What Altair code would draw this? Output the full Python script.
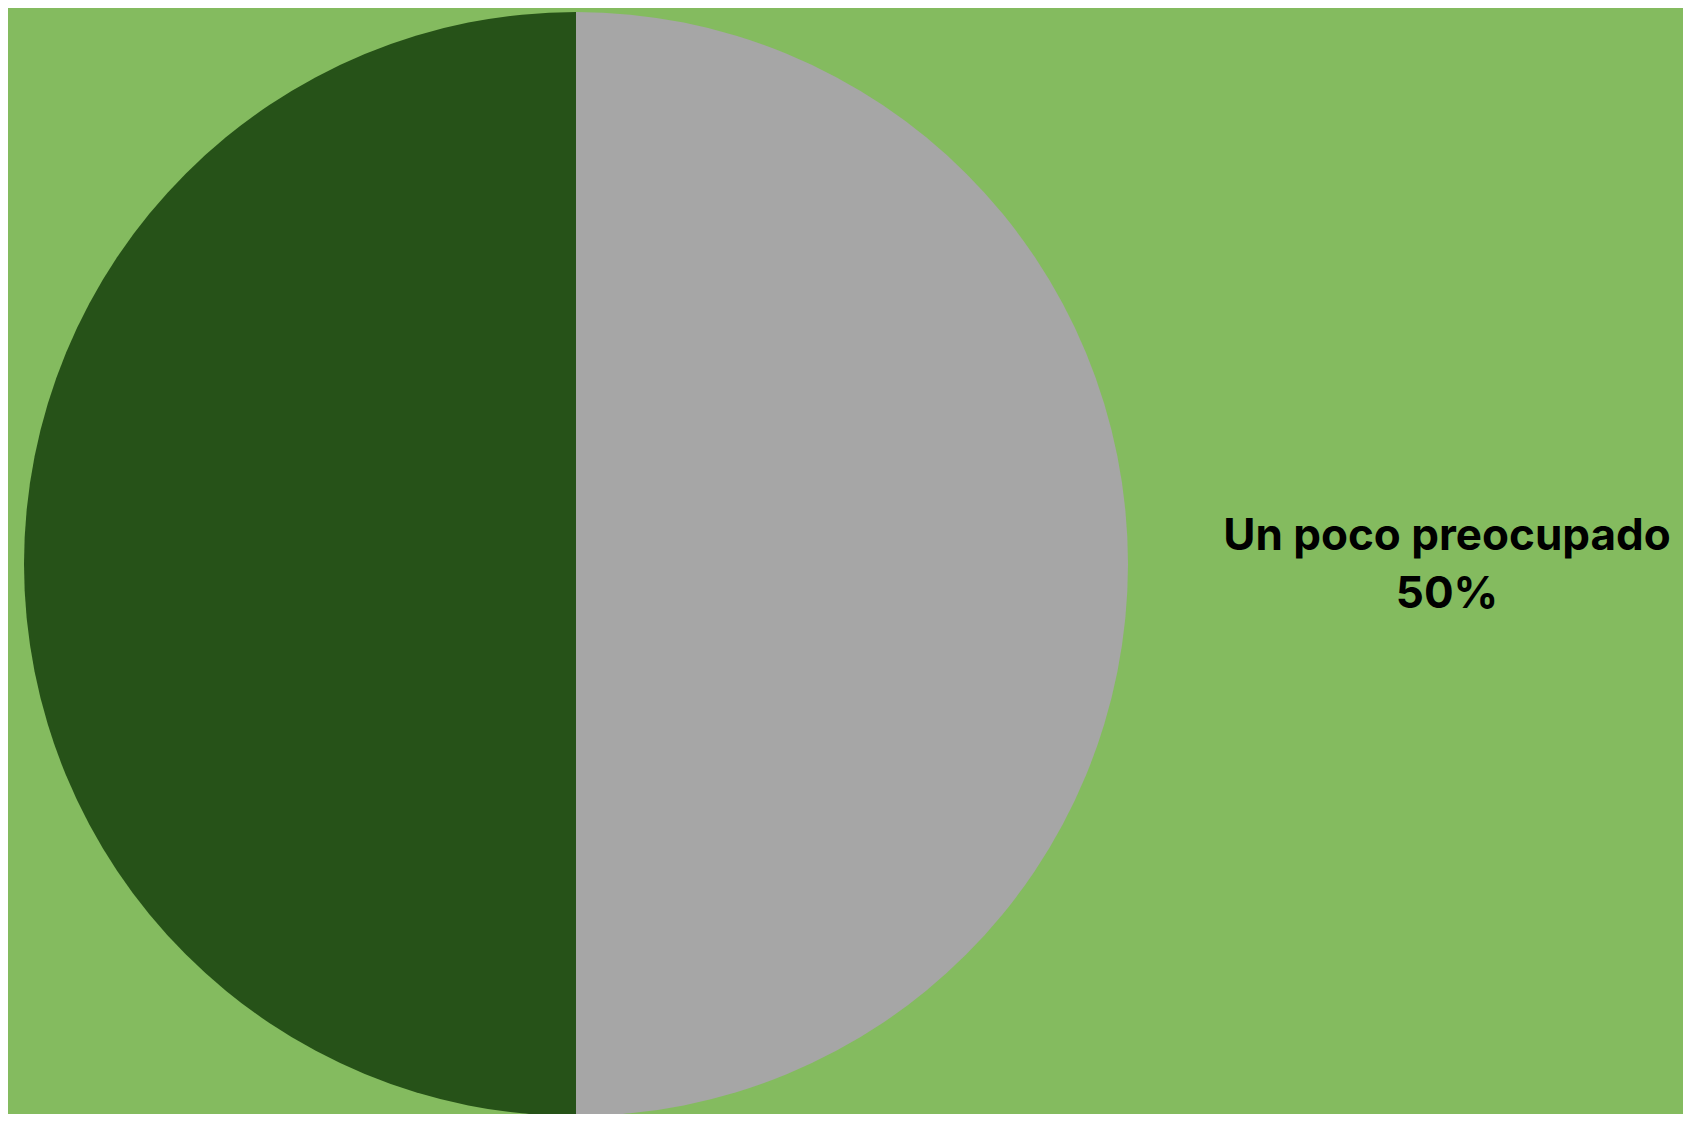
import altair as alt
import pandas as pd

categories = ["Un poco preocupado", "Muy preocupado"]
values = [50, 50]
colors = ["#A6A6A6", "#265218"]
order = [1, 2]

df = pd.DataFrame({"categoria": categories, "valor": values, "orden": order})

W, H = 1675, 1106
cx, cy, r = 568, 556, 552

base = alt.Chart(df)

pie = base.mark_arc(radius=r, stroke=None, strokeWidth=0).encode(
    theta=alt.Theta("valor:Q", stack=True),
    color=alt.Color("categoria:N", scale=alt.Scale(domain=categories, range=colors), legend=None),
    order=alt.Order("orden:Q"),
    x=alt.value(cx),
    y=alt.value(cy),
)

label = base.transform_filter(
    alt.datum.categoria == "Un poco preocupado"
).transform_calculate(
    etiqueta="[datum.categoria, format(datum.valor, 'd') + '%']"
).mark_text(
    font="Inter", fontWeight="bold", fontSize=44, color="#000000",
    align="center", baseline="alphabetic", lineHeight=58,
).encode(
    text=alt.Text("etiqueta:N"),
    x=alt.value(1439),
    y=alt.value(542),
)

chart = alt.layer(pie, label).properties(
    width=W, height=H, padding=0,
    autosize=alt.AutoSizeParams(type="none"),
    background="#84BB5F",
).configure_view(stroke=None)

chart.save("out.html", embed_options={"renderer": "svg", "actions": False})
